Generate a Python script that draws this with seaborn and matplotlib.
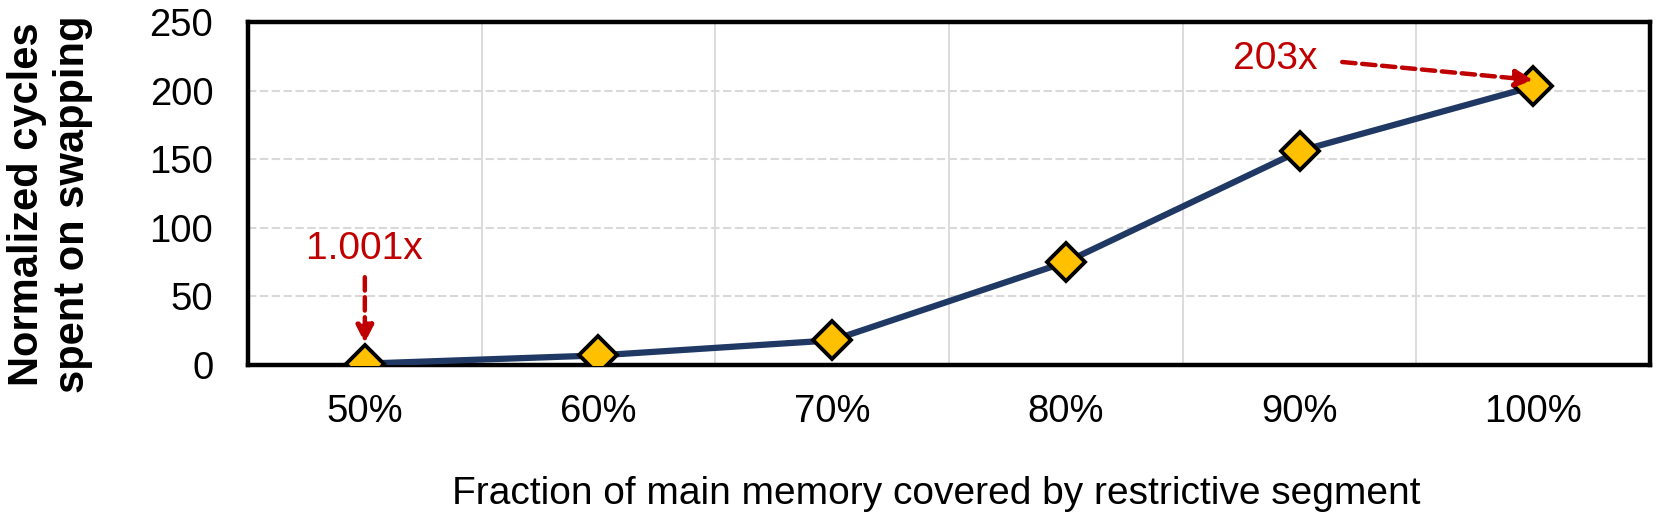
import matplotlib
matplotlib.use("Agg")
import matplotlib.pyplot as plt
import seaborn as sns
import pandas as pd
import numpy as np
from matplotlib.ticker import FixedLocator

# values
fractions = ["50%", "60%", "70%", "80%", "90%", "100%"]
norm_cycles = [1.001, 7, 18, 75, 156, 203]
y_ticks = [0, 50, 100, 150, 200, 250]
low_label = "1.001x"
high_label = "203x"

xlabel = "Fraction of main memory covered by restrictive segment"
ylabel = "Normalized cycles\nspent on swapping"

line_col = "#203864"
marker_col = "#FFC000"
red = "#C00000"
grid_col = "#D9D9D9"

df = pd.DataFrame({"fraction": fractions, "cycles": norm_cycles})

sns.set_theme(style="white")
plt.rcParams["font.family"] = ["Liberation Sans", "DejaVu Sans"]

fig, ax = plt.subplots(figsize=(16.61, 5.24), dpi=100)
fig.subplots_adjust(left=0.1493, right=0.9934, top=0.958, bottom=0.3034)

sns.lineplot(data=df, x="fraction", y="cycles", ax=ax, sort=False,
             color=line_col, linewidth=4.5,
             marker="D", markersize=19, markerfacecolor=marker_col,
             markeredgecolor="black", markeredgewidth=2.8, zorder=3)

ax.set_xlim(-0.5, len(fractions) - 0.5)
ax.set_ylim(0, 250)
ax.set_yticks(y_ticks)

# grid: dashed horizontal, solid vertical between categories
ax.yaxis.grid(True, linestyle=(0, (4, 1.7)), color=grid_col, linewidth=1.5)
ax.xaxis.set_minor_locator(FixedLocator(np.arange(len(fractions) - 1) + 0.5))
ax.xaxis.grid(True, which="minor", color=grid_col, linewidth=1.3)
ax.xaxis.grid(False, which="major")
ax.set_axisbelow(True)

for s in ax.spines.values():
    s.set_color("black")
    s.set_linewidth(3.2)

ax.tick_params(which="both", length=0)
ax.tick_params(axis="x", labelsize=27.5, pad=21, colors="black")
ax.tick_params(axis="y", labelsize=27.5, pad=25, colors="black")

ax.set_xlabel(xlabel, fontsize=28, color="black")
ax.xaxis.set_label_coords(0.491, -0.3236)
ax.set_ylabel(ylabel, fontsize=30, fontweight="bold", linespacing=1.18, color="black")
ax.yaxis.set_label_coords(-0.1106, 0.47)

arrow = dict(arrowstyle="-|>", color=red, lw=3.2, linestyle=(0, (3, 1.5)),
             mutation_scale=26, shrinkA=0, shrinkB=0)

# 1.001x callout above the first point
ax.text(0, 84.5, low_label, ha="center", va="center", color=red, fontsize=28)
ax.annotate("", xy=(fractions[0], 16), xytext=(fractions[0], 64), arrowprops=arrow)

# 203x callout pointing at the last point
ax.annotate("", xy=(fractions[-1], 207.7), xytext=(-137.5, 13),
            textcoords="offset points", arrowprops=arrow)
ax.annotate(high_label, xy=(fractions[-1], 207.7), xytext=(-186, 15),
            textcoords="offset points", ha="center", va="center",
            color=red, fontsize=28)

fig.savefig("out.png", dpi=100)
